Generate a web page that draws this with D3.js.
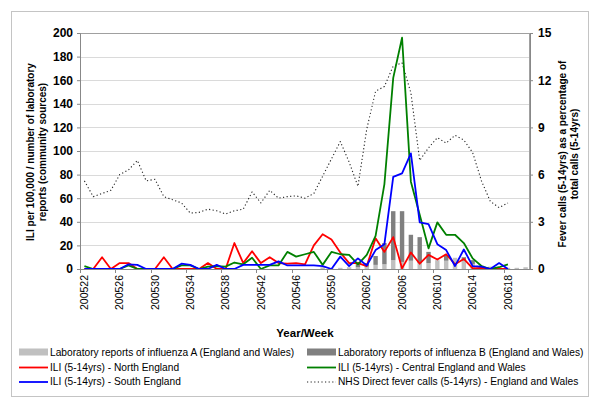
<!DOCTYPE html>
<html><head><meta charset="utf-8">
<script src="https://cdn.jsdelivr.net/npm/d3@7"></script>
<style>
body{margin:0;background:#fff}
svg{display:block}
text{font-family:"Liberation Sans",Arial,Helvetica,sans-serif;fill:#000}
</style>
</head><body>
<svg id="c" width="600" height="406"></svg>
<script>
// ---------- data ----------
const weeks = ["200522","200523","200524","200525","200526","200527","200528","200529","200530","200531",
  "200532","200533","200534","200535","200536","200537","200538","200539","200540","200541",
  "200542","200543","200544","200545","200546","200547","200548","200549","200550","200551","200552",
  "200601","200602","200603","200604","200605","200606","200607","200608","200609","200610",
  "200611","200612","200613","200614","200615","200616","200617","200618","200619","200620"];
const tickLabels = ["200522","200526","200530","200534","200538","200542","200546","200550",
  "200602","200606","200610","200614","200618"];
const leftTicks = [0,20,40,60,80,100,120,140,160,180,200];
const rightTicks = [0,3,6,9,12,15];

// Laboratory reports (stacked columns, left axis)
const labA = [0,0,0,0,0,0,0,0,0,0,0,0,0,0,0,0,0,0,0,0,0,0,0,0,0,0,0,
  1.5,0.5,1,1.5,1.5,2,3.5,4,7.5,6,7,5,5,7.5,7,9.5,7,4,3,2,1.5,1,1,1.5];
const labB = [0,0,0,0,0,0,0,0,0,0,0,0,0,0,0,0,0,0,0,0,0,0,0,0,0,0,0,0,0,0,0,
  4.5,3,7.5,18,41.5,43,22,22,9.5,0,5,0,3,3.5,0,0,0,0,0,0];

// ILI rates (left axis)
const iliNorth = [0,0,10,0,5,5,0,0,0,10,0,0,0,0,5,0,0,22,5,15,5,10,5,4.5,5,4,20,29.5,25,14,
  5,5,2.5,26,14.5,27,0.5,14,4.5,12,8,12.5,4,8.5,0.5,1,0,0,0];
const iliCentral = [2.5,0,0,0,0,3,0,0,0,0,0,3,3,0,2,2.5,2,5.5,4,9.5,0,3,3,14.5,10.5,12.5,14.5,3.5,14.5,12.5,
  12,4,12,28,72,162,196,74,46,17.5,39.5,29,29,22,9,2.5,0,1.5,4];
const iliSouth = [0,0,0,0,0,4,3.5,0,0,0,0,4.5,3.5,0,0,3.5,0,0,3.5,3.5,3.5,3.5,6.5,3,3,3,3,2.5,0,10.5,
  2.5,9,3,16,21,78,81,98,39.5,38,21,16,2.5,16.5,2.5,2,0,5,0];
// NHS Direct fever calls % (right axis)
const nhsCalls = [5.6,4.6,4.8,5.0,6.0,6.3,6.9,5.6,5.7,4.6,4.4,4.2,3.55,3.6,3.8,3.7,3.5,3.7,3.8,4.9,
  4.2,5.0,4.5,4.6,4.65,4.5,4.8,5.9,7.0,8.1,6.8,5.25,8.9,11.3,11.6,12.9,13.1,11.2,6.9,7.7,
  8.35,8.0,8.5,8.2,7.4,5.6,4.3,3.9,4.2];

// ---------- layout ----------
const svg = d3.select("#c");
const L = 80, R = 530, T = 33, B = 269;
const FONT = '"Liberation Sans",Arial,Helvetica,sans-serif';

svg.append("rect").attr("x",11.5).attr("y",11.5).attr("width",577).attr("height",385)
  .attr("fill","#fff").attr("stroke","#c4c4c4").attr("stroke-width",1);

const x = d3.scaleBand().domain(weeks).range([L,R]).padding(0);
const bw = x.bandwidth();
const cx = w => x(w) + bw/2;
const yL = d3.scaleLinear().domain([0,200]).range([B,T]);
const yR = d3.scaleLinear().domain([0,15]).range([B,T]);

// gridlines
svg.append("g").selectAll("line").data(leftTicks.filter(v=>v>0&&v<200)).join("line")
  .attr("x1",L).attr("x2",R).attr("y1",d=>Math.round(yL(d))+0.5).attr("y2",d=>Math.round(yL(d))+0.5)
  .attr("stroke","#dadada").attr("stroke-width",1);

// plot frame
svg.append("rect").attr("x",L+0.5).attr("y",T+0.5).attr("width",R-L-1).attr("height",B-T)
  .attr("fill","none").attr("stroke","#a0a0a0").attr("stroke-width",1);

// stacked bars
const barW = bw*0.5;
const gb = svg.append("g");
gb.selectAll("rect.a").data(weeks.map((w,i)=>({w,v:labA[i]})).filter(d=>d.v>0)).join("rect")
  .attr("x",d=>cx(d.w)-barW/2).attr("width",barW)
  .attr("y",d=>yL(d.v)).attr("height",d=>yL(0)-yL(d.v)).attr("fill","#c0c0c0");
gb.selectAll("rect.b").data(weeks.map((w,i)=>({w,a:labA[i],v:labB[i]})).filter(d=>d.v>0)).join("rect")
  .attr("x",d=>cx(d.w)-barW/2).attr("width",barW)
  .attr("y",d=>yL(d.a+d.v)).attr("height",d=>yL(d.a)-yL(d.a+d.v)).attr("fill","#808080");

// lines
function drawLine(arr, scale, color, width, dash){
  const line = d3.line().x((d,i)=>cx(weeks[i])).y(d=>scale(d));
  const p = svg.append("path").datum(arr).attr("d",line).attr("fill","none")
    .attr("stroke",color).attr("stroke-width",width).attr("stroke-linejoin","round");
  if(dash) p.attr("stroke-dasharray",dash);
}
drawLine(nhsCalls, yR, "#222", 1.1, "1.2,2.4");
drawLine(iliNorth, yL, "#ff0000", 1.8);
drawLine(iliCentral, yL, "#008000", 1.8);
drawLine(iliSouth, yL, "#0000ff", 1.8);

// axes
const axL = svg.append("g").attr("transform",`translate(${L},0)`)
  .call(d3.axisLeft(yL).tickValues(leftTicks).tickSize(3).tickPadding(4));
axL.select(".domain").attr("stroke","#888");
axL.selectAll(".tick line").attr("stroke","#888");
axL.selectAll("text").attr("font-family",FONT).attr("font-size","12px").attr("font-weight","bold").attr("fill","#000");

const axR = svg.append("g").attr("transform",`translate(${R},0)`)
  .call(d3.axisRight(yR).tickValues(rightTicks).tickSize(3).tickPadding(5));
axR.select(".domain").attr("stroke","#888");
axR.selectAll(".tick line").attr("stroke","#888");
axR.selectAll("text").attr("font-family",FONT).attr("font-size","12px").attr("font-weight","bold").attr("fill","#000");

const axB = svg.append("g").attr("transform",`translate(0,${B})`)
  .call(d3.axisBottom(x).tickValues(tickLabels).tickSize(0).tickPadding(0).tickSizeOuter(0));
axB.select(".domain").attr("stroke","#888");
axB.selectAll("text").attr("font-family",FONT).attr("font-size","10.5px").attr("fill","#000")
  .attr("transform","rotate(-90)").attr("text-anchor","end")
  .attr("x",-6).attr("y",0).attr("dy","0.35em");
// tick marks at band boundaries
svg.append("g").selectAll("line").data(tickLabels).join("line")
  .attr("x1",d=>Math.round(x(d))+0.5).attr("x2",d=>Math.round(x(d))+0.5)
  .attr("y1",B).attr("y2",B+4).attr("stroke","#888");

// axis titles
function vTitle(xc, yc, lines){
  const t = svg.append("text").attr("transform",`translate(${xc},${yc}) rotate(-90)`)
    .attr("text-anchor","middle").attr("font-size","10px").attr("font-weight","bold");
  lines.forEach((s,i)=>t.append("tspan").attr("x",0).attr("y",(i-(lines.length-1)/2)*11.5).attr("dy","0.35em").text(s));
}
vTitle(36.5, 152, ["ILI per 100,000 / number of laboratory","reports (community sources)"]);
vTitle(568.5, 154, ["Fever calls (5-14yrs) as a percentage of","total calls (5-14yrs)"]);

svg.append("text").attr("x",305).attr("y",333).attr("dy","0.35em").attr("text-anchor","middle")
  .attr("font-size","11.5px").attr("font-weight","bold").text("Year/Week");

// legend
const legendItems = [
  {label:"Laboratory reports of influenza A (England and Wales)", type:"bar", color:"#c0c0c0", col:0, row:0},
  {label:"Laboratory reports of influenza B (England and Wales)", type:"bar", color:"#808080", col:1, row:0},
  {label:"ILI (5-14yrs) - North England", type:"line", color:"#ff0000", col:0, row:1},
  {label:"ILI (5-14yrs) - Central England and Wales", type:"line", color:"#008000", col:1, row:1},
  {label:"ILI (5-14yrs) - South England", type:"line", color:"#0000ff", col:0, row:2},
  {label:"NHS Direct fever calls (5-14yrs) - England and Wales", type:"dot", color:"#222", col:1, row:2}
];
const colX = [19, 307], rowY = [352, 367, 381.5];
const lg = svg.append("g").selectAll("g").data(legendItems).join("g")
  .attr("transform",d=>`translate(${colX[d.col]},${rowY[d.row]})`);
lg.filter(d=>d.type==="bar").append("rect").attr("x",0).attr("y",-3.5).attr("width",29).attr("height",7)
  .attr("fill",d=>d.color);
lg.filter(d=>d.type!=="bar").append("line").attr("x1",0).attr("x2",29).attr("y1",0.5).attr("y2",0.5)
  .attr("stroke",d=>d.color).attr("stroke-width",d=>d.type==="dot"?1.1:1.8)
  .attr("stroke-dasharray",d=>d.type==="dot"?"1.2,2.4":null);
lg.append("text").attr("x",31).attr("y",0).attr("dy","0.35em").attr("font-size","10.2px").text(d=>d.label);
</script>
</body></html>
